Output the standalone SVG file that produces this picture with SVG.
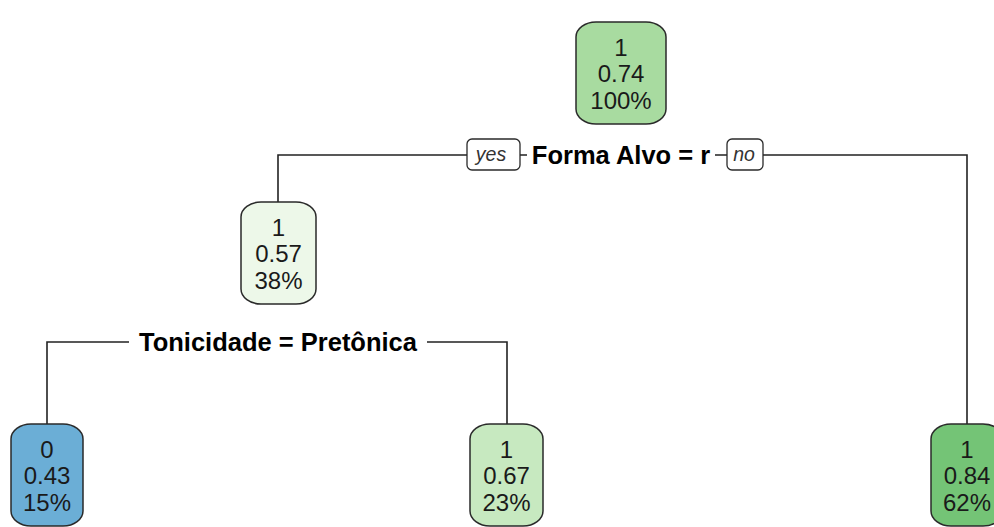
<svg xmlns="http://www.w3.org/2000/svg" width="994" height="527" viewBox="0 0 994 527">
<style>
.box{stroke:#2a2a2a;stroke-width:1.5}
.t{font-family:"Liberation Sans",Arial,sans-serif;font-size:24px;fill:#1a1a1a;text-anchor:middle}
.s{font-family:"Liberation Sans",Arial,sans-serif;font-size:25.5px;font-weight:bold;fill:#000;text-anchor:middle}
.yn{font-family:"Liberation Sans",Arial,sans-serif;font-size:19.5px;font-style:italic;fill:#333;text-anchor:middle}
.ynb{fill:#fff;stroke:#2a2a2a;stroke-width:1.3}
.ln{fill:none;stroke:#222;stroke-width:1.6}
</style>
<rect width="994" height="527" fill="#fff"/>
<g id="connectors">
<path class="ln" d="M278 202 V155 H967 V424"/>
<path class="ln" d="M47 424 V342 H507 V424"/>
</g>
<g id="split1">
<rect x="527" y="140" width="188" height="30" fill="#fff"/>
<text class="s" x="621" y="164">Forma Alvo = r</text>
<rect class="ynb" x="467" y="139" width="53" height="31" rx="5"/>
<text class="yn" x="491" y="161">yes</text>
<rect class="ynb" x="727" y="139" width="36" height="31" rx="5"/>
<text class="yn" x="744" y="161">no</text>
</g>
<g id="split2">
<rect x="129" y="328" width="298" height="30" fill="#fff"/>
<text class="s" x="278" y="351">Tonicidade = Pretônica</text>
</g>
<g id="n1">
<rect class="box" x="576" y="22" width="90" height="102" rx="20" ry="15" fill="#A8DBA0"/>
<text class="t" x="621" y="56">1</text>
<text class="t" x="621" y="82">0.74</text>
<text class="t" x="621" y="109">100%</text>
</g>
<g id="n2">
<rect class="box" x="241" y="202" width="75" height="102" rx="20" ry="15" fill="#EDF8E9"/>
<text class="t" x="278.5" y="236">1</text>
<text class="t" x="278.5" y="262">0.57</text>
<text class="t" x="278.5" y="289">38%</text>
</g>
<g id="n4">
<rect class="box" x="11" y="424" width="72" height="102" rx="20" ry="15" fill="#6BAED6"/>
<text class="t" x="47" y="458">0</text>
<text class="t" x="47" y="484">0.43</text>
<text class="t" x="47" y="511">15%</text>
</g>
<g id="n5">
<rect class="box" x="470" y="424" width="73" height="102" rx="20" ry="15" fill="#C7E9C0"/>
<text class="t" x="506.5" y="458">1</text>
<text class="t" x="506.5" y="484">0.67</text>
<text class="t" x="506.5" y="511">23%</text>
</g>
<g id="n3">
<rect class="box" x="931" y="424" width="72" height="102" rx="20" ry="15" fill="#74C476"/>
<text class="t" x="967" y="458">1</text>
<text class="t" x="967" y="484">0.84</text>
<text class="t" x="967" y="511">62%</text>
</g>
</svg>
